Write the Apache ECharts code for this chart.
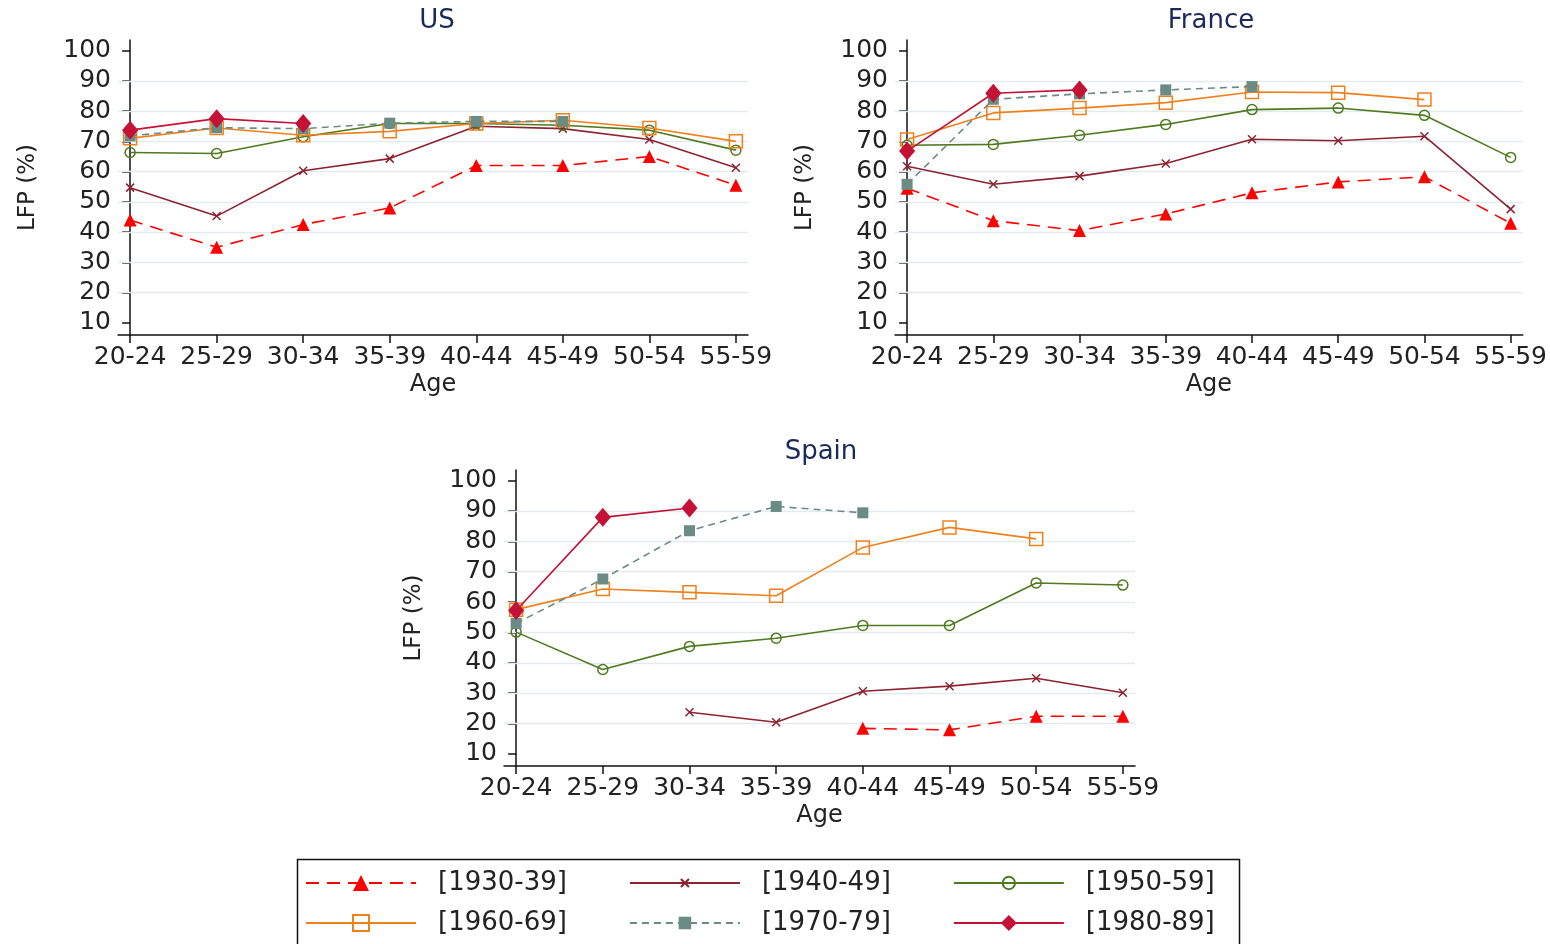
<!DOCTYPE html>
<html>
<head>
<meta charset="utf-8">
<script src="https://cdn.jsdelivr.net/npm/echarts@6/dist/echarts.min.js"></script>
<style>html,body{margin:0;padding:0;background:#fff;}#c{width:1550px;height:944px;}</style>
</head>
<body>
<div id="c"></div>
<script>
// ---- data ----
const ages = ['20-24','25-29','30-34','35-39','40-44','45-49','50-54','55-59'];
const yTicks = [10,20,30,40,50,60,70,80,90,100];
const gridVals = [20,30,40,50,60,70,80,90];
const cohorts = ['[1930-39]','[1940-49]','[1950-59]','[1960-69]','[1970-79]','[1980-89]'];
const panels = ['US','France','Spain'];

const us1930 = [44, 35, 42.5, 48, 62, 62, 65, 55.5];
const us1940 = [54.7, 45.3, 60.3, 64.3, 75, 74.2, 70.6, 61.3];
const us1950 = [66.3, 66, 71.5, 75.9, 75.9, 75.3, 73.7, 67.1];
const us1960 = [71, 74.4, 72, 73.3, 75.9, 77, 74.4, 70];
const us1970 = [71.8, 74.5, 74.2, 76, 76.6, 76.6, null, null];
const us1980 = [73.7, 77.5, 75.9, null, null, null, null, null];

const fr1930 = [54.5, 43.8, 40.5, 46, 53, 56.6, 58.3, 42.9];
const fr1940 = [61.8, 55.8, 58.5, 62.7, 70.7, 70.2, 71.7, 47.6];
const fr1950 = [68.7, 69, 72, 75.6, 80.5, 81, 78.6, 64.7];
const fr1960 = [70.6, 79.4, 81, 82.8, 86.3, 86.1, 83.8, null];
const fr1970 = [55.8, 83.9, 85.7, 87, 88.1, null, null, null];
const fr1980 = [66.8, 85.9, 87, null, null, null, null, null];

const es1930 = [null, null, null, null, 18.4, 17.9, 22.4, 22.4];
const es1940 = [null, null, 23.7, 20.4, 30.6, 32.3, 34.9, 30.1];
const es1950 = [50.1, 37.8, 45.4, 48.1, 52.3, 52.3, 66.3, 65.6];
const es1960 = [57.5, 64.3, 63.2, 62.1, 78, 84.6, 80.8, null];
const es1970 = [53, 67.6, 83.5, 91.5, 89.4, null, null, null];
const es1980 = [57.2, 87.9, 91, null, null, null, null, null];

const panelData = [
  [us1930, us1940, us1950, us1960, us1970, us1980],
  [fr1930, fr1940, fr1950, fr1960, fr1970, fr1980],
  [es1930, es1940, es1950, es1960, es1970, es1980]
];

// ---- styles ----
const colors = ['#ff0000', '#8c2332', '#4f7a1f', '#f0801c', '#6b8b85', '#c41236'];
const styles = [
  {symbol:'triangle', size:13, fill:true, dash:[13,8]},
  {symbol:'path://M-8,-8M8,8M-4,-4L4,4M4,-4L-4,4', size:16, fill:false, dash:'solid'},
  {symbol:'path://M-6.5,-6.5M6.5,6.5M5,0A5,5,0,1,1,-5,0A5,5,0,1,1,5,0Z', size:13, fill:false, dash:'solid'},
  {symbol:'rect', size:13, fill:false, dash:'solid'},
  {symbol:'path://M-7,-7M7,7M-5.5,-5.5L5.5,-5.5L5.5,5.5L-5.5,5.5Z', size:14, fill:true, dash:[7,5]},
  {symbol:'path://M0,-10L8.5,0L0,10L-8.5,0Z', size:19, fill:true, dash:'solid', keep:true}
];

const grids = [
  {left:118, top:40, width:630, height:295},
  {left:895, top:40, width:634, height:295},
  {left:504, top:470, width:631, height:296}
];
const titlePos = [{x:432, y:3}, {x:1206, y:3}, {x:816, y:434}];

const font = 'DejaVu Sans';
const xAxes = [], yAxes = [], series = [], titles = [];

grids.forEach((g, p) => {
  titles.push({
    text: panels[p], left: titlePos[p].x, top: titlePos[p].y, textAlign: 'center',
    textStyle: {fontFamily: font, fontWeight: 'normal', fontSize: 26, color: '#1c2a5a'}
  });
  xAxes.push({
    type: 'value', gridIndex: p, min: -0.14, max: 7.14,
    name: 'Age', nameLocation: 'middle', nameGap: 38,
    nameTextStyle: {fontFamily: font, fontSize: 24, color: '#222'},
    axisLine: {show: true, lineStyle: {color: '#111', width: 1.5}},
    axisTick: {show: true, length: 8, lineStyle: {color: '#111', width: 1.5}, customValues: ages.map((a, i) => i)},
    axisLabel: {customValues: ages.map((a, i) => i), formatter: v => ages[Math.round(v)],
      fontFamily: font, fontSize: 25, color: '#222', margin: 10},
    splitLine: {show: false}
  });
  yAxes.push({
    type: 'value', gridIndex: p, min: 6, max: 103.5,
    name: 'LFP (%)', nameLocation: 'middle', nameGap: 78, nameRotate: 90,
    nameTextStyle: {fontFamily: font, fontSize: 23, color: '#222'},
    axisLine: {show: true, lineStyle: {color: '#111', width: 1.5}},
    axisTick: {show: true, length: 8, lineStyle: {color: '#111', width: 1.5}, customValues: yTicks},
    axisLabel: {customValues: yTicks, fontFamily: font, fontSize: 25, color: '#222', margin: 7},
    splitLine: {show: false}
  });
  panelData[p].forEach((vals, k) => {
    const st = styles[k];
    const s = {
      name: cohorts[k], type: 'line', xAxisIndex: p, yAxisIndex: p,
      data: vals.map((v, i) => [i, v]).filter(d => d[1] !== null),
      symbol: st.symbol, symbolSize: st.size, showAllSymbol: true,
      symbolKeepAspect: !!st.keep,
      lineStyle: {color: colors[k], width: 1.6, type: st.dash},
      itemStyle: st.fill ? {color: colors[k]} :
        {color: 'rgba(255,255,255,0)', borderColor: colors[k], borderWidth: 1.5},
      emphasis: {disabled: true},
      animation: false, z: 3 + k
    };
    if (k === 0) {
      s.markLine = {
        silent: true, symbol: 'none', z: 1, animation: false,
        label: {show: false},
        lineStyle: {color: '#e2ecef', width: 1.3, type: 'solid'},
        data: gridVals.map(v => ({yAxis: v}))
      };
    }
    series.push(s);
  });
});

const legendBase = {
  orient: 'horizontal', left: 305, itemWidth: 110, itemHeight: 20, itemGap: 62,
  padding: 0, selectedMode: false,
  textStyle: {fontFamily: font, fontSize: 26, color: '#222', padding: [0, 0, 0, 17]}
};
const legends = [
  Object.assign({}, legendBase, {top: 870, data: cohorts.slice(0, 3)}),
  Object.assign({}, legendBase, {top: 910, data: cohorts.slice(3, 6)})
];

const chart = echarts.init(document.getElementById('c'));
chart.setOption({
  animation: false,
  backgroundColor: '#fff',
  title: titles,
  grid: grids,
  xAxis: xAxes,
  yAxis: yAxes,
  legend: legends,
  series: series,
  graphic: [{
    type: 'rect', left: 295, top: 857, shape: {width: 942, height: 100},
    style: {fill: 'none', stroke: '#111', lineWidth: 1.5}, silent: true
  }]
});
</script>
</body>
</html>
